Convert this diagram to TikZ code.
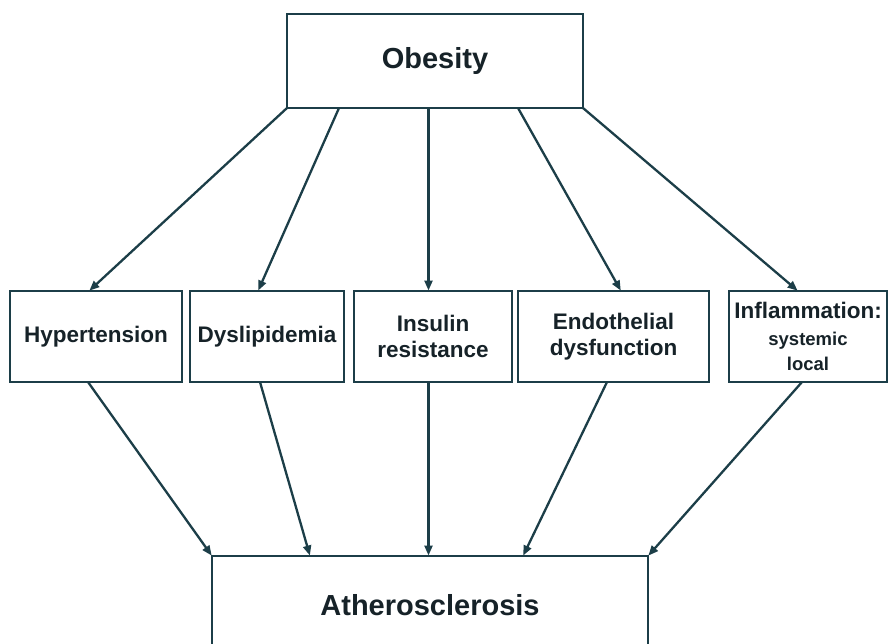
\documentclass[tikz,border=0pt]{standalone}
\usepackage{fontspec}
\setmainfont{Liberation Sans}
\usetikzlibrary{arrows.meta}
\definecolor{ln}{RGB}{28,62,72}
\definecolor{tx}{RGB}{22,34,40}
\begin{document}
\begin{tikzpicture}[x=1pt,y=-1pt,
  box/.style={draw=ln, line width=2.6pt, inner sep=0pt, outer sep=0pt,
    minimum height=91pt, align=center, text=tx,
    font=\bfseries\fontsize{22.5}{26}\selectfont},
  bigbox/.style={box, font=\bfseries\fontsize{29}{34}\selectfont},
  arr/.style={draw=ln, line width=2.3pt, shorten >=0.5pt,
    -{Triangle[length=10pt,width=8pt]}}]
\clip (0,0) rectangle (890,643);
\useasboundingbox (0,0) rectangle (890,643);
\fill[white] (0,0) rectangle (890,643);
% top
\node[bigbox, minimum width=296pt, minimum height=94pt] (ob) at (435,61) {Obesity};
% middle row
\node[box, minimum width=172pt] (hyp) at (96,336.5) {Hypertension};
\node[box, minimum width=154pt] (dys) at (267,336.5) {Dyslipidemia};
\node[box, minimum width=158pt] (ins) at (433,336.5) {Insulin\\resistance};
\node[box, minimum width=191pt] (endo) at (613.5,336.5) {Endothelial\\dysfunction};
\node[box, minimum width=158pt] (inf) at (808,336.5)
  {Inflammation:\\[1pt]{\fontsize{18.5}{22}\selectfont systemic}\\[-1pt]{\fontsize{18.5}{22}\selectfont local}};
% bottom
\node[bigbox, minimum width=436pt, minimum height=98pt] (ath) at (430,605) {Atherosclerosis};
% arrows from Obesity
\draw[arr] (ob.south west) -- ([xshift=-7pt]hyp.north);
\draw[arr] ([xshift=-96pt]ob.south) -- ([xshift=-9pt]dys.north);
\draw[arr] ([xshift=-6.5pt]ob.south) -- ([xshift=-4.5pt]ins.north);
\draw[arr] ([xshift=83pt]ob.south) -- ([xshift=7.5pt]endo.north);
\draw[arr] (ob.south east) -- ([xshift=-10pt]inf.north);
% arrows to Atherosclerosis
\draw[arr] ([xshift=-8pt]hyp.south) -- (ath.north west);
\draw[arr] ([xshift=-7pt]dys.south) -- ([xshift=-120pt]ath.north);
\draw[arr] ([xshift=-4.5pt]ins.south) -- ([xshift=-1.5pt]ath.north);
\draw[arr] ([xshift=-6.5pt]endo.south) -- ([xshift=93pt]ath.north);
\draw[arr] ([xshift=-6pt]inf.south) -- (ath.north east);
\end{tikzpicture}
\end{document}
